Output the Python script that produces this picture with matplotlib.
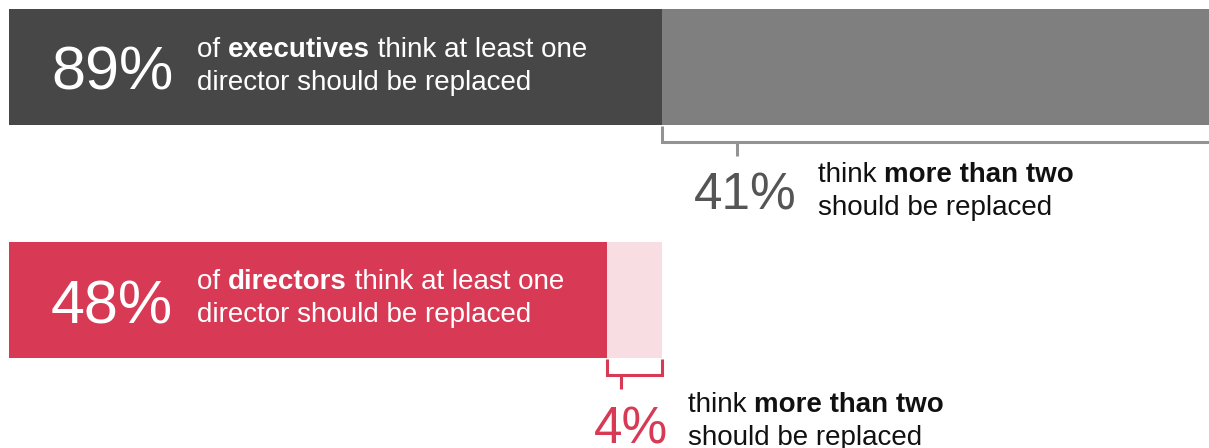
import matplotlib
matplotlib.use("Agg")
import matplotlib.pyplot as plt
from matplotlib.transforms import offset_copy

plt.rcParams['font.family'] = ['Liberation Sans', 'DejaVu Sans']

# ---- data ----
groups = ["executives", "directors"]
at_least_one = [89, 48]          # % who think at least one director should be replaced
more_than_two = [41, 4]          # % who think more than two should be replaced
base_part = [a - m for a, m in zip(at_least_one, more_than_two)]

main_colors = ["#474747", "#d83a55"]
light_colors = ["#7f7f7f", "#f8dde2"]
bracket_colors = ["#939393", "#d83a55"]
big_colors = ["#555555", "#d83a55"]

W, H = 1209, 448
DPI = 100
fig = plt.figure(figsize=(W / DPI, H / DPI), dpi=DPI)
ax = fig.add_axes([0, 0, 1, 1])
PX_PER_UNIT = 13.6
X0 = 9
ax.set_xlim(-X0 / PX_PER_UNIT, (W - X0) / PX_PER_UNIT)
ax.set_ylim(H, 0)
ax.axis('off')


def px2x(px):
    return (px - X0) / PX_PER_UNIT


renderer = fig.canvas.get_renderer()


def width_of(s, size, weight):
    t = fig.text(0, 0, s + "|", fontsize=size, fontweight=weight)
    t2 = fig.text(0, 0, "|", fontsize=size, fontweight=weight)
    w = t.get_window_extent(renderer).width - t2.get_window_extent(renderer).width
    t.remove(); t2.remove()
    return w


def rich(x, y, parts, size, color):
    dx = 0.0
    for s, weight in parts:
        ax.text(x, y, s, fontsize=size, fontweight=weight, color=color,
                va='baseline', ha='left',
                transform=offset_copy(ax.transData, fig=fig, x=dx, y=0, units='dots'))
        dx += width_of(s, size, weight)


bar_centers = [67, 300]
bar_h = 116

for i in range(2):
    ax.barh(bar_centers[i], base_part[i], height=bar_h, left=0, color=main_colors[i], lw=0)
    ax.barh(bar_centers[i], more_than_two[i], height=bar_h, left=base_part[i],
            color=light_colors[i], lw=0)

# big labels inside bars
BIG = 44
SMALL = 20
ax.text(px2x(51), 90, f"{at_least_one[0]}%", fontsize=BIG, color="white", va='baseline', ha='left')
rich(px2x(197), 57, [("of ", "normal"), (groups[0], "bold"), (" think at least one", "normal")], SMALL, "white")
rich(px2x(197), 90, [("director should be replaced", "normal")], SMALL, "white")

ax.text(px2x(51), 323, f"{at_least_one[1]}%", fontsize=BIG, color="white", va='baseline', ha='left')
rich(px2x(197), 289, [("of ", "normal"), (groups[1], "bold"), (" think at least one", "normal")], SMALL, "white")
rich(px2x(197), 322, [("director should be replaced", "normal")], SMALL, "white")

# brackets
br_y = [142, 375]
tick_x = [737, 621]
for i in range(2):
    c = bracket_colors[i]
    x_left = base_part[i]
    x_right = at_least_one[i]
    top = bar_centers[i] + bar_h / 2 + 1
    ax.plot([x_left, x_left, x_right, x_right], [top, br_y[i], br_y[i], top],
            color=c, lw=2.2, solid_capstyle='butt', solid_joinstyle='miter', clip_on=True)
    ax.plot([px2x(tick_x[i])] * 2, [br_y[i], br_y[i] + 14], color=c, lw=2.2, solid_capstyle='butt')

# callouts below
MID = 37
ax.text(px2x(694), 209, f"{more_than_two[0]}%", fontsize=MID, color=big_colors[0], va='baseline', ha='left')
rich(px2x(818), 182, [("think ", "normal"), ("more than two", "bold")], SMALL, "#111111")
rich(px2x(818), 215, [("should be replaced", "normal")], SMALL, "#111111")

ax.text(px2x(594), 443, f"{more_than_two[1]}%", fontsize=MID, color=big_colors[1], va='baseline', ha='left')
rich(px2x(688), 412, [("think ", "normal"), ("more than two", "bold")], SMALL, "#111111")
rich(px2x(688), 445, [("should be replaced", "normal")], SMALL, "#111111")

fig.savefig("out.png", dpi=DPI)
